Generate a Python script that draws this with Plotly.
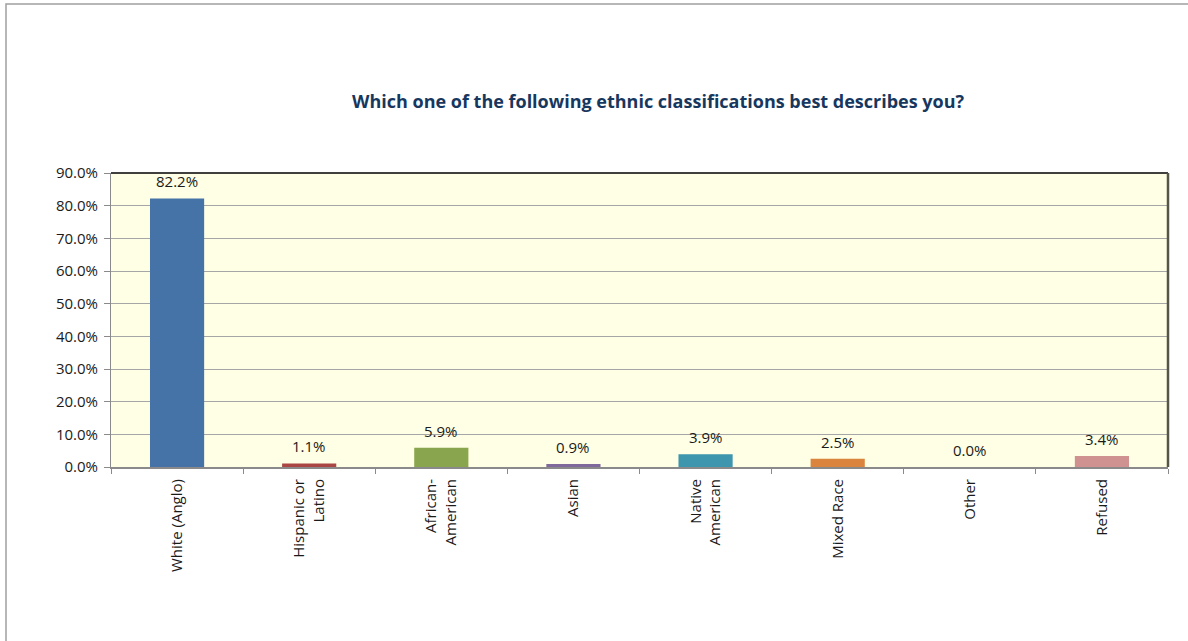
import plotly.graph_objects as go

categories = ["White (Anglo)", "Hispanic or<br>Latino", "African-<br>American", "Asian",
              "Native<br>American", "Mixed Race", "Other", "Refused"]
shares = [0.822, 0.011, 0.059, 0.009, 0.039, 0.025, 0.000, 0.034]
bar_colors = ["#4572A7", "#AA4643", "#89A54E", "#80699B",
              "#3D96AE", "#DB843D", "#92A8CD", "#D09191"]
y_ticks = [i / 10 for i in range(10)]
y_tick_text = [f"{v:.1%}" for v in y_ticks]

FONT = "Open Sans"

fig = go.Figure()
fig.add_trace(go.Bar(
    x=categories, y=shares, marker=dict(color=bar_colors, line=dict(width=0)),
    width=0.41, hoverinfo="skip",
))

# value labels above each bar
for c, v in zip(categories, shares):
    fig.add_annotation(x=c, y=v, text=f"{v:.1%}", showarrow=False,
                       yanchor="bottom", yshift=5,
                       font=dict(family=FONT, size=15, color="#1a1a1a"))

fig.update_layout(
    width=1188, height=641,
    margin=dict(l=111, r=20, t=173, b=174),
    paper_bgcolor="white", plot_bgcolor="#FFFFE5",
    showlegend=False,
    font=dict(family=FONT, size=15, color="#1a1a1a"),
    annotations=list(fig.layout.annotations) + [dict(
        text="<b>Which one of the following ethnic classifications best describes you?</b>",
        xref="paper", yref="paper", x=(658 - 111) / 1057, y=(467 - 101) / 294,
        xanchor="center", yanchor="middle", showarrow=False,
        font=dict(family=FONT, size=18, color="#17375E"),
    )],
)

fig.update_xaxes(
    type="category", tickson="boundaries", ticks="outside", ticklen=5,
    tickcolor="#8a8a8a", showline=True, linecolor="#8a8a8a", linewidth=2,
    tickangle=-90, showgrid=False, tickfont=dict(family=FONT, size=15),
    ticklabelstandoff=4,
)
fig.update_yaxes(
    range=[0, 0.9], tickvals=y_ticks, ticktext=y_tick_text,
    ticks="outside", ticklen=6, tickcolor="#8a8a8a",
    showline=True, linecolor="#8a8a8a", linewidth=1,
    showgrid=True, gridcolor="#A6A6A6", gridwidth=1,
    zeroline=False, tickfont=dict(family=FONT, size=15),
    ticklabelstandoff=3,
)

# plot frame (top and right edges) and the outer chart border
fig.add_shape(type="line", xref="paper", yref="paper", x0=0, x1=1, y0=1, y1=1,
              line=dict(color="#000000", width=1.5))
fig.add_shape(type="line", xref="paper", yref="paper", x0=1, x1=1, y0=0, y1=1,
              line=dict(color="#55554a", width=2.5))
fig.add_shape(type="rect", xref="paper", yref="paper",
              x0=(6 - 111) / 1057, x1=1.2, y0=-1, y1=(467 - 4) / 294,
              line=dict(color="#A0A0A0", width=1.5), layer="below")

fig.write_html("out.html")
